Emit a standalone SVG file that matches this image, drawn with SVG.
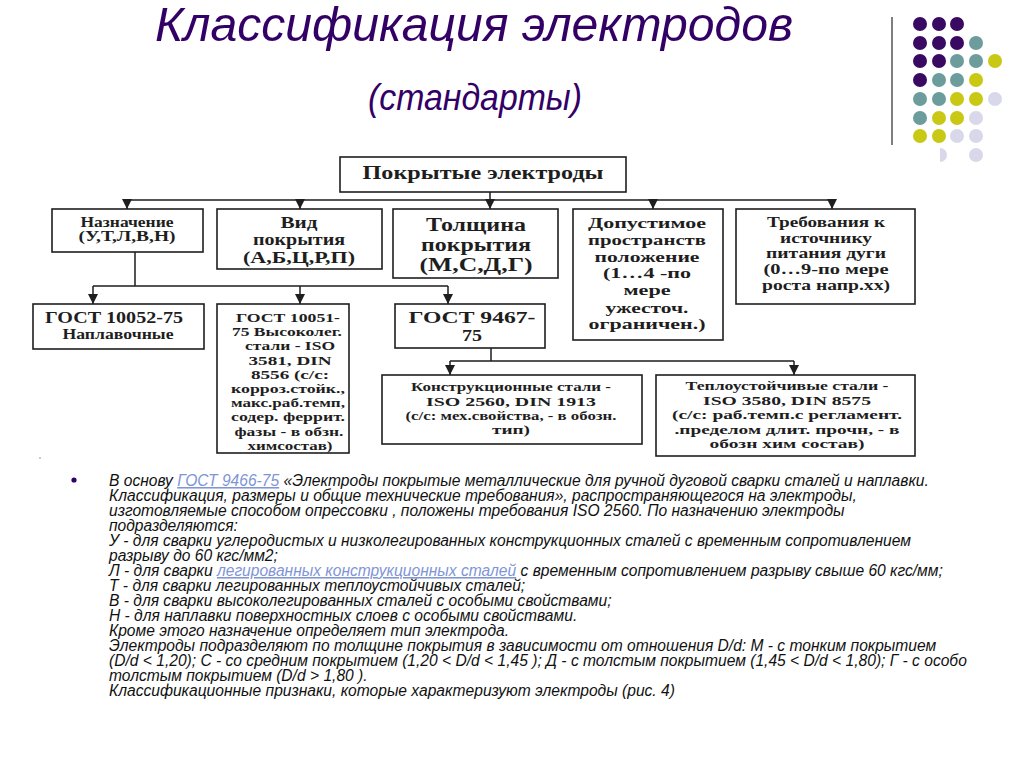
<svg xmlns="http://www.w3.org/2000/svg" width="1024" height="768" viewBox="0 0 1024 768">
<style>
  .bg { fill: #ffffff; }
  .title { font-family: "Liberation Sans", Arial, sans-serif; font-style: italic; fill: #330066; }
  .box { fill: #ffffff; stroke: #1e1e1e; stroke-width: 1.6; }
  .bt { font-family: "Liberation Serif", "Times New Roman", serif; font-weight: bold; fill: #1e1e1e; text-anchor: middle; }
  .con { fill: none; stroke: #1e1e1e; stroke-width: 1.5; }
  .body { font-family: "Liberation Sans", Arial, sans-serif; font-style: italic; font-size: 15.6px; fill: #111111; }
  .link { fill: #7f95d6; text-decoration: underline; }
  .p { fill: #3a0a62; } .t { fill: #6c9c9c; } .y { fill: #c9c815; } .l { fill: #d8d8ea; }
</style>
<defs>
  <marker id="arr" viewBox="0 0 10 10" refX="10" refY="5" markerWidth="10" markerHeight="10" markerUnits="userSpaceOnUse" orient="auto">
    <path d="M0,0 L10,5 L0,10 z" fill="#1e1e1e"/>
  </marker>
</defs>
<rect class="bg" x="0" y="0" width="1024" height="768"/>

<g id="title">
  <text class="title" x="155" y="41" font-size="48" textLength="638" lengthAdjust="spacingAndGlyphs">Классификация электродов</text>
  <text class="title" x="368" y="110" font-size="36" textLength="214" lengthAdjust="spacingAndGlyphs">(стандарты)</text>
</g>

<g id="decor">
  <line x1="892" y1="17" x2="892" y2="145" stroke="#555555" stroke-width="1.5"/>
  <circle class="p" cx="920" cy="24" r="7"/><circle class="p" cx="939" cy="24" r="7"/><circle class="p" cx="957" cy="24" r="7"/>
  <circle class="p" cx="920" cy="43" r="7"/><circle class="p" cx="939" cy="43" r="7"/><circle class="p" cx="957" cy="43" r="7"/><circle class="t" cx="976" cy="43" r="7"/>
  <circle class="p" cx="920" cy="61" r="7"/><circle class="p" cx="939" cy="61" r="7"/><circle class="t" cx="957" cy="61" r="7"/><circle class="t" cx="976" cy="61" r="7"/><circle class="y" cx="995" cy="61" r="7"/>
  <circle class="p" cx="920" cy="80" r="7"/><circle class="t" cx="939" cy="80" r="7"/><circle class="t" cx="957" cy="80" r="7"/><circle class="y" cx="976" cy="80" r="7"/>
  <circle class="t" cx="920" cy="99" r="7"/><circle class="t" cx="939" cy="99" r="7"/><circle class="y" cx="957" cy="99" r="7"/><circle class="y" cx="976" cy="99" r="7"/><circle class="l" cx="995" cy="99" r="7"/>
  <circle class="t" cx="920" cy="118" r="7"/><circle class="y" cx="939" cy="118" r="7"/><circle class="y" cx="957" cy="118" r="7"/><circle class="l" cx="976" cy="118" r="7"/>
  <circle class="y" cx="920" cy="136" r="7"/><circle class="y" cx="939" cy="136" r="7"/><circle class="l" cx="957" cy="136" r="7"/><circle class="l" cx="976" cy="136" r="7"/>
  <path class="l" d="M940,148 A7,7 0 0 1 940,162 Z"/><circle class="l" cx="976" cy="155" r="7"/>
  <circle cx="40" cy="458" r="1" fill="#bbbbbb"/>
</g>

<g id="connectors">
  <path class="con" d="M490,192 V200 M127,200 H832"/>
  <path class="con" d="M127,200 V209" marker-end="url(#arr)"/>
  <path class="con" d="M300,200 V209" marker-end="url(#arr)"/>
  <path class="con" d="M490,200 V209" marker-end="url(#arr)"/>
  <path class="con" d="M653,200 V209" marker-end="url(#arr)"/>
  <path class="con" d="M832,200 V209" marker-end="url(#arr)"/>
  <path class="con" d="M135,252 V286 M93,286 H448"/>
  <path class="con" d="M93,286 V304" marker-end="url(#arr)"/>
  <path class="con" d="M300,286 V304" marker-end="url(#arr)"/>
  <path class="con" d="M448,286 V304" marker-end="url(#arr)"/>
  <path class="con" d="M491,348 V361 M450,361 H794"/>
  <path class="con" d="M450,361 V375" marker-end="url(#arr)"/>
  <path class="con" d="M794,361 V375" marker-end="url(#arr)"/>
</g>

<g id="n-main">
  <rect class="box" x="340" y="157" width="286" height="35"/>
  <text class="bt" x="483" y="179" font-size="18" textLength="241" lengthAdjust="spacingAndGlyphs">Покрытые электроды</text>
</g>

<g id="n-naznachenie">
  <rect class="box" x="52" y="209" width="151" height="43"/>
  <text class="bt" x="127" y="227" font-size="14" textLength="93" lengthAdjust="spacingAndGlyphs">Назначение</text>
  <text class="bt" x="127" y="241" font-size="14" textLength="97" lengthAdjust="spacingAndGlyphs">(У,Т,Л,В,Н)</text>
</g>

<g id="n-vid">
  <rect class="box" x="217" y="209" width="165" height="60"/>
  <text class="bt" x="299" y="228" font-size="16" textLength="37" lengthAdjust="spacingAndGlyphs">Вид</text>
  <text class="bt" x="299" y="245" font-size="16" textLength="92" lengthAdjust="spacingAndGlyphs">покрытия</text>
  <text class="bt" x="299" y="263" font-size="16" textLength="112" lengthAdjust="spacingAndGlyphs">(А,Б,Ц,Р,П)</text>
</g>

<g id="n-tolshchina">
  <rect class="box" x="393" y="209" width="165" height="69"/>
  <text class="bt" x="476" y="231" font-size="19" textLength="100" lengthAdjust="spacingAndGlyphs">Толщина</text>
  <text class="bt" x="476" y="251" font-size="19" textLength="110" lengthAdjust="spacingAndGlyphs">покрытия</text>
  <text class="bt" x="476" y="271" font-size="19" textLength="113" lengthAdjust="spacingAndGlyphs">(М,С,Д,Г)</text>
</g>

<g id="n-polozhenie">
  <rect class="box" x="573" y="209" width="150" height="131"/>
  <text class="bt" x="647" y="228" font-size="15" textLength="118" lengthAdjust="spacingAndGlyphs">Допустимое</text>
  <text class="bt" x="647" y="245" font-size="15" textLength="118" lengthAdjust="spacingAndGlyphs">пространств</text>
  <text class="bt" x="647" y="262" font-size="15" textLength="105" lengthAdjust="spacingAndGlyphs">положение</text>
  <text class="bt" x="647" y="278" font-size="15" textLength="88" lengthAdjust="spacingAndGlyphs">(1…4 -по</text>
  <text class="bt" x="647" y="295" font-size="15" textLength="47" lengthAdjust="spacingAndGlyphs">мере</text>
  <text class="bt" x="647" y="313" font-size="15" textLength="83" lengthAdjust="spacingAndGlyphs">ужесточ.</text>
  <text class="bt" x="647" y="329" font-size="15" textLength="117" lengthAdjust="spacingAndGlyphs">ограничен.)</text>
</g>

<g id="n-istochnik">
  <rect class="box" x="736" y="209" width="179" height="95"/>
  <text class="bt" x="826" y="227" font-size="14" textLength="118" lengthAdjust="spacingAndGlyphs">Требования к</text>
  <text class="bt" x="826" y="243" font-size="14" textLength="92" lengthAdjust="spacingAndGlyphs">источнику</text>
  <text class="bt" x="826" y="258" font-size="14" textLength="120" lengthAdjust="spacingAndGlyphs">питания дуги</text>
  <text class="bt" x="826" y="274" font-size="14" textLength="125" lengthAdjust="spacingAndGlyphs">(0…9-по мере</text>
  <text class="bt" x="826" y="290" font-size="14" textLength="128" lengthAdjust="spacingAndGlyphs">роста напр.хх)</text>
</g>

<g id="n-gost10052">
  <rect class="box" x="33" y="304" width="171" height="45"/>
  <text class="bt" x="114" y="323" font-size="16" textLength="138" lengthAdjust="spacingAndGlyphs">ГОСТ 10052-75</text>
  <text class="bt" x="118" y="339" font-size="15" textLength="111" lengthAdjust="spacingAndGlyphs">Наплавочные</text>
</g>

<g id="n-gost10051">
  <rect class="box" x="217" y="304" width="132" height="149"/>
  <text class="bt" x="288" y="322" font-size="13" textLength="104" lengthAdjust="spacingAndGlyphs">ГОСТ 10051-</text>
  <text class="bt" x="287" y="336" font-size="13" textLength="110" lengthAdjust="spacingAndGlyphs">75 Высоколег.</text>
  <text class="bt" x="290" y="350" font-size="13" textLength="90" lengthAdjust="spacingAndGlyphs">стали - ISO</text>
  <text class="bt" x="290" y="365" font-size="13" textLength="83" lengthAdjust="spacingAndGlyphs">3581, DIN</text>
  <text class="bt" x="290" y="379" font-size="13" textLength="78" lengthAdjust="spacingAndGlyphs">8556 (с/с:</text>
  <text class="bt" x="288" y="393" font-size="13" textLength="114" lengthAdjust="spacingAndGlyphs">корроз.стойк.,</text>
  <text class="bt" x="288" y="407" font-size="13" textLength="114" lengthAdjust="spacingAndGlyphs">макс.раб.темп,</text>
  <text class="bt" x="288" y="421" font-size="13" textLength="114" lengthAdjust="spacingAndGlyphs">содер. феррит.</text>
  <text class="bt" x="289" y="436" font-size="13" textLength="109" lengthAdjust="spacingAndGlyphs">фазы - в обзн.</text>
  <text class="bt" x="290" y="450" font-size="13" textLength="85" lengthAdjust="spacingAndGlyphs">химсостав)</text>
</g>

<g id="n-gost9467">
  <rect class="box" x="395" y="304" width="150" height="44"/>
  <text class="bt" x="472" y="323" font-size="17" textLength="127" lengthAdjust="spacingAndGlyphs">ГОСТ 9467-</text>
  <text class="bt" x="472" y="341" font-size="17" textLength="20" lengthAdjust="spacingAndGlyphs">75</text>
</g>

<g id="n-konstr">
  <rect class="box" x="382" y="375" width="260" height="69"/>
  <text class="bt" x="511" y="391" font-size="13" textLength="200" lengthAdjust="spacingAndGlyphs">Конструкционные стали -</text>
  <text class="bt" x="511" y="406" font-size="13" textLength="170" lengthAdjust="spacingAndGlyphs">ISO 2560, DIN 1913</text>
  <text class="bt" x="511" y="420" font-size="13" textLength="211" lengthAdjust="spacingAndGlyphs">(с/с: мех.свойства, - в обозн.</text>
  <text class="bt" x="511" y="434" font-size="13" textLength="38" lengthAdjust="spacingAndGlyphs">тип)</text>
</g>

<g id="n-teplo">
  <rect class="box" x="656" y="375" width="259" height="81"/>
  <text class="bt" x="787" y="390" font-size="13" textLength="203" lengthAdjust="spacingAndGlyphs">Теплоустойчивые стали -</text>
  <text class="bt" x="787" y="405" font-size="13" textLength="168" lengthAdjust="spacingAndGlyphs">ISO 3580, DIN 8575</text>
  <text class="bt" x="787" y="419" font-size="13" textLength="230" lengthAdjust="spacingAndGlyphs">(с/с: раб.темп.с регламент.</text>
  <text class="bt" x="787" y="434" font-size="13" textLength="225" lengthAdjust="spacingAndGlyphs">.пределом длит. прочн, - в</text>
  <text class="bt" x="787" y="448" font-size="13" textLength="155" lengthAdjust="spacingAndGlyphs">обозн хим состав)</text>
</g>

<g id="bodytext">
  <circle cx="74" cy="480" r="2.6" fill="#330066"/>
  <text class="body" x="109" y="486">В основу <tspan class="link">ГОСТ 9466-75</tspan> «Электроды покрытые металлические для ручной дуговой сварки сталей и наплавки.</text>
  <text class="body" x="109" y="501">Классификация, размеры и общие технические требования», распространяющегося на электроды,</text>
  <text class="body" x="109" y="516">изготовляемые способом опрессовки , положены требования ISO 2560. По назначению электроды</text>
  <text class="body" x="109" y="531">подразделяются:</text>
  <text class="body" x="109" y="546">У - для сварки углеродистых и низколегированных конструкционных сталей с временным сопротивлением</text>
  <text class="body" x="109" y="561">разрыву до 60 кгс/мм2;</text>
  <text class="body" x="109" y="576">Л - для сварки <tspan class="link">легированных конструкционных сталей</tspan> с временным сопротивлением разрыву свыше 60 кгс/мм;</text>
  <text class="body" x="109" y="591">Т - для сварки легированных теплоустойчивых сталей;</text>
  <text class="body" x="109" y="606">В - для сварки высоколегированных сталей с особыми свойствами;</text>
  <text class="body" x="109" y="621">Н - для наплавки поверхностных слоев с особыми свойствами.</text>
  <text class="body" x="109" y="636">Кроме этого назначение определяет тип электрода.</text>
  <text class="body" x="109" y="651">Электроды подразделяют по толщине покрытия в зависимости от отношения D/d: М - с тонким покрытием</text>
  <text class="body" x="109" y="666">(D/d &lt; 1,20); С - со средним покрытием (1,20 &lt; D/d &lt; 1,45 ); Д - с толстым покрытием (1,45 &lt; D/d &lt; 1,80); Г - с особо</text>
  <text class="body" x="109" y="681">толстым покрытием (D/d &gt; 1,80 ).</text>
  <text class="body" x="109" y="696">Классификационные признаки, которые характеризуют электроды (рис. 4)</text>
</g>
</svg>
